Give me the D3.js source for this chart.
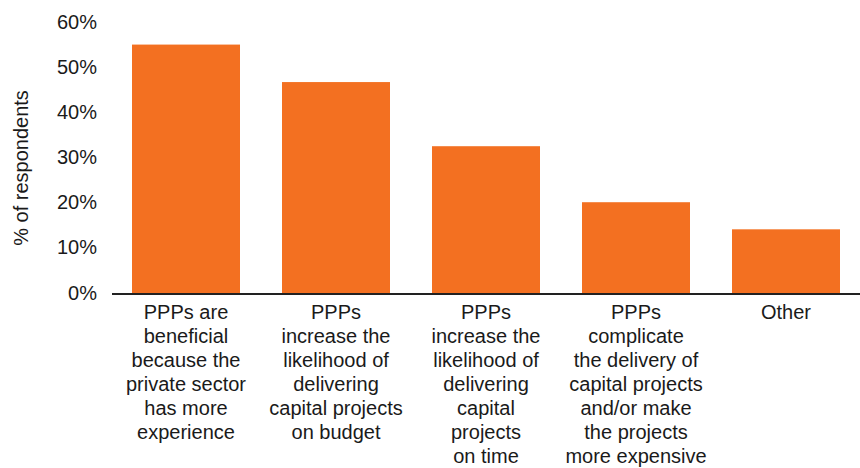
<!DOCTYPE html>
<html>
<head>
<meta charset="utf-8">
<script src="https://cdn.jsdelivr.net/npm/d3@7"></script>
<style>
  body { margin: 0; background: #fff; }
  text { font-family: "Liberation Sans", Arial, Helvetica, sans-serif; fill: #1a1a1a; }
</style>
</head>
<body>
<svg id="chart"></svg>
<script>
// categories (one array of lines per label)
var categories = [
  ["PPPs are", "beneficial", "because the", "private sector", "has more", "experience"],
  ["PPPs", "increase the", "likelihood of", "delivering", "capital projects", "on budget"],
  ["PPPs", "increase the", "likelihood of", "delivering", "capital", "projects", "on time"],
  ["PPPs", "complicate", "the delivery of", "capital projects", "and/or make", "the projects", "more expensive"],
  ["Other"]
];
var values = [55, 46.7, 32.5, 20.1, 14.1];
var yTicks = [0, 10, 20, 30, 40, 50, 60];

var width = 860, height = 468;
var fontSize = "20px";
var svg = d3.select("#chart").attr("width", width).attr("height", height);

var x = d3.scaleBand()
  .domain(d3.range(categories.length))
  .range([111, 861])
  .paddingInner(0.28)
  .paddingOuter(0.14);

var y = d3.scaleLinear().domain([0, 60]).range([293, 22]);

// y tick labels (no axis line)
var yAxis = d3.axisLeft(y).tickValues(yTicks).tickSize(0).tickPadding(0)
  .tickFormat(function (d) { return d + "%"; });
var gy = svg.append("g").attr("transform", "translate(97,0)").call(yAxis);
gy.select(".domain").remove();
gy.selectAll("text").style("font-size", fontSize).attr("fill", "#1a1a1a")
  .attr("dy", "0.3em");
gy.attr("font-family", null).attr("font-size", null);

// y title
svg.append("text")
  .attr("transform", "translate(28,168) rotate(-90)")
  .attr("text-anchor", "middle")
  .style("font-size", fontSize)
  .text("% of respondents");

// bars
svg.selectAll("rect.bar").data(values).enter().append("rect")
  .attr("class", "bar")
  .attr("x", function (d, i) { return x(i); })
  .attr("width", x.bandwidth())
  .attr("y", function (d) { return y(d); })
  .attr("height", function (d) { return y(0) - y(d); })
  .attr("fill", "#F37021");

// baseline
svg.append("line")
  .attr("x1", 112).attr("x2", 860)
  .attr("y1", y(0) + 1).attr("y2", y(0) + 1)
  .attr("stroke", "#222").attr("stroke-width", 2);

// category labels
var labels = svg.selectAll("text.cat").data(categories).enter().append("text")
  .attr("class", "cat")
  .attr("text-anchor", "middle")
  .style("font-size", fontSize)
  .attr("transform", function (d, i) { return "translate(" + (x(i) + x.bandwidth() / 2) + ",319)"; });
labels.selectAll("tspan").data(function (d) { return d; }).enter().append("tspan")
  .attr("x", 0)
  .attr("y", function (d, j) { return j * 24; })
  .text(function (d) { return d; });
</script>
</body>
</html>
